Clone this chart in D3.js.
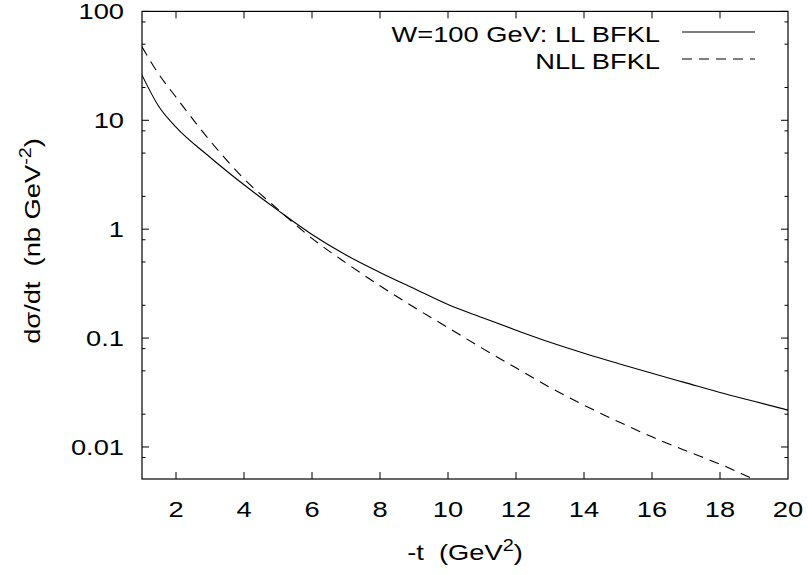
<!DOCTYPE html>
<html>
<head>
<meta charset="utf-8">
<script src="https://cdn.jsdelivr.net/npm/d3@7"></script>
<style>
  html, body { margin: 0; padding: 0; background: #fff; }
  svg { display: block; }
  text { font-family: "Liberation Sans", Arial, Helvetica, sans-serif; fill: #000; white-space: pre; }
</style>
</head>
<body>
<svg id="chart" width="808" height="575"></svg>
<script>
// ---- data ----
const tValues = [1, 1.5, 2, 3, 4, 5, 6, 7, 8, 9, 10, 11, 12, 13, 14, 15, 16, 17, 18, 19, 20];
const llBFKL  = [26.0, 13.3, 8.64, 4.58, 2.556, 1.489, 0.895, 0.580, 0.401, 0.2853, 0.2033, 0.1544, 0.1182, 0.0915, 0.0726, 0.0585, 0.0475, 0.0388, 0.0317, 0.0263, 0.0218];
const nllBFKL = [47.3, 26.3, 16.3, 6.49, 2.90, 1.521, 0.823, 0.490, 0.302, 0.192, 0.1246, 0.0809, 0.0533, 0.0352, 0.0242, 0.01713, 0.01239, 0.00923, 0.00696, 0.00505, 0.00367];
const xTicks = [2, 4, 6, 8, 10, 12, 14, 16, 18, 20];
const yTicks = [0.01, 0.1, 1, 10, 100];
const yTickLabels = ["0.01", "0.1", "1", "10", "100"];
const yMinorTicks = [0.008, 0.02, 0.05, 0.08, 0.2, 0.5, 0.8, 2, 5, 8, 20, 50, 80];
const seriesNames = ["W=100 GeV: LL BFKL", "NLL BFKL"];

// ---- layout ----
const svg = d3.select("#chart");
const L = 142, R = 788, T = 11.4, B = 479;
const FS = 22, SX = 1.24;

const x = d3.scaleLinear().domain([1, 20]).range([L, R]);
const y = d3.scaleLog().domain([0.00508, 100]).range([B, T]);

function label(g, str, px, py, anchor, rot) {
  const t = g.append("text")
    .attr("transform", `translate(${px},${py})` + (rot ? ` rotate(${rot})` : "") + ` scale(${SX},1)`)
    .attr("text-anchor", anchor)
    .attr("xml:space", "preserve")
    .style("font-size", FS + "px");
  if (str !== null) t.text(str);
  return t;
}

// clip
svg.append("defs").append("clipPath").attr("id", "plotclip")
  .append("rect").attr("x", L).attr("y", T).attr("width", R - L).attr("height", B - T);

// frame
svg.append("rect").attr("x", L).attr("y", T).attr("width", R - L).attr("height", B - T)
  .attr("fill", "none").attr("stroke", "#000").attr("stroke-width", 1.2);

// axes with inward ticks (mirrored)
const gx = svg.append("g");
const majLen = 7, minLen = 3.5;
xTicks.forEach(v => {
  if (v === 20) return;
  gx.append("line").attr("x1", x(v)).attr("x2", x(v)).attr("y1", B).attr("y2", B - majLen).attr("stroke", "#000");
  gx.append("line").attr("x1", x(v)).attr("x2", x(v)).attr("y1", T).attr("y2", T + majLen).attr("stroke", "#000");
});
xTicks.forEach(v => label(gx, String(v), x(v), 517, "middle"));

const gy = svg.append("g");
yTicks.forEach((v, i) => {
  gy.append("line").attr("x1", L).attr("x2", L + majLen).attr("y1", y(v)).attr("y2", y(v)).attr("stroke", "#000");
  gy.append("line").attr("x1", R).attr("x2", R - majLen).attr("y1", y(v)).attr("y2", y(v)).attr("stroke", "#000");
  label(gy, yTickLabels[i], 124, y(v) + 8, "end");
});
yMinorTicks.forEach(v => {
  gy.append("line").attr("x1", L).attr("x2", L + minLen).attr("y1", y(v)).attr("y2", y(v)).attr("stroke", "#000");
  gy.append("line").attr("x1", R).attr("x2", R - minLen).attr("y1", y(v)).attr("y2", y(v)).attr("stroke", "#000");
});

// axis titles
const xt = label(svg, null, 465, 560, "middle");
xt.append("tspan").text("-t  (GeV");
xt.append("tspan").attr("dy", -9).style("font-size", "16px").text("2");
xt.append("tspan").attr("dy", 9).text(")");

const yt = label(svg, null, 40, 241, "middle", -90);
yt.append("tspan").text("dσ/dt  (nb GeV");
yt.append("tspan").attr("dy", -9).style("font-size", "16px").text("-2");
yt.append("tspan").attr("dy", 9).text(")");

// curves
const line = d3.line().x(d => x(d[0])).y(d => y(d[1])).curve(d3.curveMonotoneX);
const plot = svg.append("g").attr("clip-path", "url(#plotclip)");
plot.append("path").datum(tValues.map((t, i) => [t, llBFKL[i]]))
  .attr("d", line).attr("fill", "none").attr("stroke", "#000").attr("stroke-width", 1.1);
plot.append("path").datum(tValues.map((t, i) => [t, nllBFKL[i]]))
  .attr("d", line).attr("fill", "none").attr("stroke", "#000").attr("stroke-width", 1.1)
  .attr("stroke-dasharray", "10,7");

// legend
const lg = svg.append("g");
label(lg, seriesNames[0], 660, 42, "end");
label(lg, seriesNames[1], 660, 69, "end");
lg.append("line").attr("x1", 682).attr("x2", 755).attr("y1", 32).attr("y2", 32)
  .attr("stroke", "#000").attr("stroke-width", 1.1);
lg.append("line").attr("x1", 682).attr("x2", 755).attr("y1", 59).attr("y2", 59)
  .attr("stroke", "#000").attr("stroke-width", 1.1).attr("stroke-dasharray", "10,7");
</script>
</body>
</html>
